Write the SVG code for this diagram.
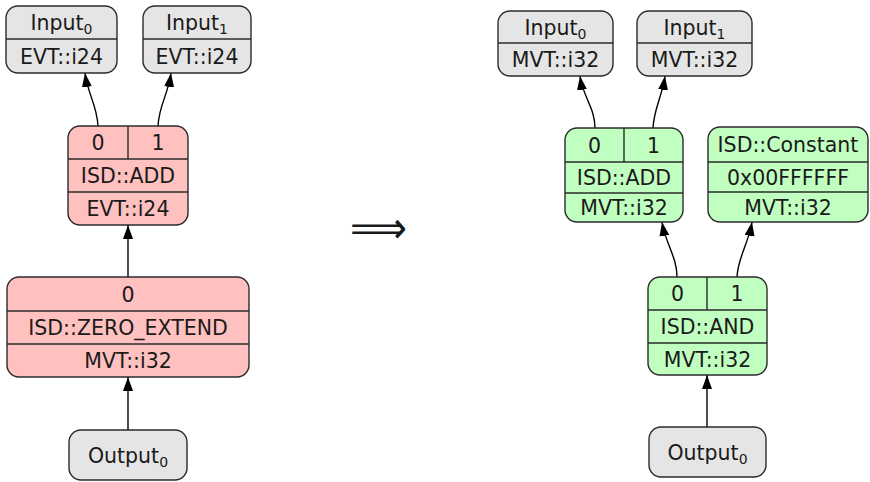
<svg xmlns="http://www.w3.org/2000/svg" width="870" height="482" viewBox="0 0 870 482">
<style>
.box{stroke:#2b2b2b;stroke-width:1.4}
.gray{fill:#e5e5e5}
.red{fill:#ffc0c0}
.green{fill:#c0ffc0}
.div{stroke:#2b2b2b;stroke-width:1.4;fill:none}
text{font-family:"DejaVu Sans","Liberation Sans",sans-serif;font-size:20.5px;fill:#1a1a1a;text-anchor:middle}
.sub{font-size:14px}
.edge{fill:none;stroke:#000;stroke-width:1.4;marker-end:url(#ah)}
</style>
<defs>
<marker id="ah" markerUnits="userSpaceOnUse" markerWidth="15" markerHeight="12" refX="14" refY="5" orient="auto">
<path d="M0,0 L14,5 L0,10 z" fill="#000"/>
</marker>
</defs>
<rect width="870" height="482" fill="#fff"/>

<g id="connectors">
<path class="edge" d="M98,126 C97,105 88,95 85,73"/>
<path class="edge" d="M158,126 C159,105 168,95 171,73"/>
<path class="edge" d="M128,277 L128,225"/>
<path class="edge" d="M128,430 L128,377"/>
<path class="edge" d="M595,128 C595,108 583,97 580,76"/>
<path class="edge" d="M653,128 C654,108 662,97 665,76"/>
<path class="edge" d="M677,277 C677,257 666,245 662,222"/>
<path class="edge" d="M737,277 C738,257 748,245 752,222"/>
<path class="edge" d="M707,427 L707,375"/>
</g>

<g id="L_input0">
<rect class="box gray" x="6" y="6" width="111" height="67" rx="12"/>
<line class="div" x1="6" y1="39" x2="117" y2="39"/>
<text x="61.5" y="30">Input<tspan class="sub" dy="4">0</tspan></text>
<text x="61.5" y="63.5">EVT::i24</text>
</g>
<g id="L_input1">
<rect class="box gray" x="143" y="6" width="108" height="67" rx="12"/>
<line class="div" x1="143" y1="39" x2="251" y2="39"/>
<text x="197" y="30">Input<tspan class="sub" dy="4">1</tspan></text>
<text x="197" y="63.5">EVT::i24</text>
</g>
<g id="L_add">
<rect class="box red" x="68" y="126" width="120" height="99" rx="12"/>
<line class="div" x1="68" y1="159" x2="188" y2="159"/>
<line class="div" x1="68" y1="192" x2="188" y2="192"/>
<line class="div" x1="128" y1="126" x2="128" y2="159"/>
<text x="98" y="150">0</text>
<text x="158" y="150">1</text>
<text x="128" y="183">ISD::ADD</text>
<text x="128" y="216">EVT::i24</text>
</g>
<g id="L_zext">
<rect class="box red" x="7" y="277" width="242" height="100" rx="12"/>
<line class="div" x1="7" y1="311" x2="249" y2="311"/>
<line class="div" x1="7" y1="344" x2="249" y2="344"/>
<text x="128" y="301.5">0</text>
<text x="128" y="335">ISD::ZERO_EXTEND</text>
<text x="128" y="368">MVT::i32</text>
</g>
<g id="L_output0">
<rect class="box gray" x="69" y="430" width="118" height="50" rx="12"/>
<text x="128" y="462.5">Output<tspan class="sub" dy="4">0</tspan></text>
</g>

<g id="implies">
<text x="378.5" y="243" style="font-size:44px" textLength="57" lengthAdjust="spacingAndGlyphs">⟹</text>
</g>

<g id="R_input0">
<rect class="box gray" x="498" y="11" width="115" height="65" rx="12"/>
<line class="div" x1="498" y1="43" x2="613" y2="43"/>
<text x="555.5" y="34.5">Input<tspan class="sub" dy="4">0</tspan></text>
<text x="555.5" y="67">MVT::i32</text>
</g>
<g id="R_input1">
<rect class="box gray" x="637" y="11" width="115" height="65" rx="12"/>
<line class="div" x1="637" y1="43" x2="752" y2="43"/>
<text x="694.5" y="34.5">Input<tspan class="sub" dy="4">1</tspan></text>
<text x="694.5" y="67">MVT::i32</text>
</g>
<g id="R_add">
<rect class="box green" x="565" y="128" width="118" height="94" rx="12"/>
<line class="div" x1="565" y1="162" x2="683" y2="162"/>
<line class="div" x1="565" y1="193" x2="683" y2="193"/>
<line class="div" x1="624" y1="128" x2="624" y2="162"/>
<text x="594.5" y="152.5">0</text>
<text x="653.5" y="152.5">1</text>
<text x="624" y="185">ISD::ADD</text>
<text x="624" y="215">MVT::i32</text>
</g>
<g id="R_const">
<rect class="box green" x="708" y="127" width="160" height="95" rx="12"/>
<line class="div" x1="708" y1="162" x2="868" y2="162"/>
<line class="div" x1="708" y1="192" x2="868" y2="192"/>
<text x="788" y="152">ISD::Constant</text>
<text x="788" y="184.5">0x00FFFFFF</text>
<text x="788" y="214.5">MVT::i32</text>
</g>
<g id="R_and">
<rect class="box green" x="648" y="277" width="119" height="98" rx="12"/>
<line class="div" x1="648" y1="310" x2="767" y2="310"/>
<line class="div" x1="648" y1="343" x2="767" y2="343"/>
<line class="div" x1="707" y1="277" x2="707" y2="310"/>
<text x="677.5" y="301">0</text>
<text x="737" y="301">1</text>
<text x="707.5" y="334">ISD::AND</text>
<text x="707.5" y="366.5">MVT::i32</text>
</g>
<g id="R_output0">
<rect class="box gray" x="649" y="427" width="117" height="50" rx="12"/>
<text x="707.5" y="459.5">Output<tspan class="sub" dy="4">0</tspan></text>
</g>
</svg>
